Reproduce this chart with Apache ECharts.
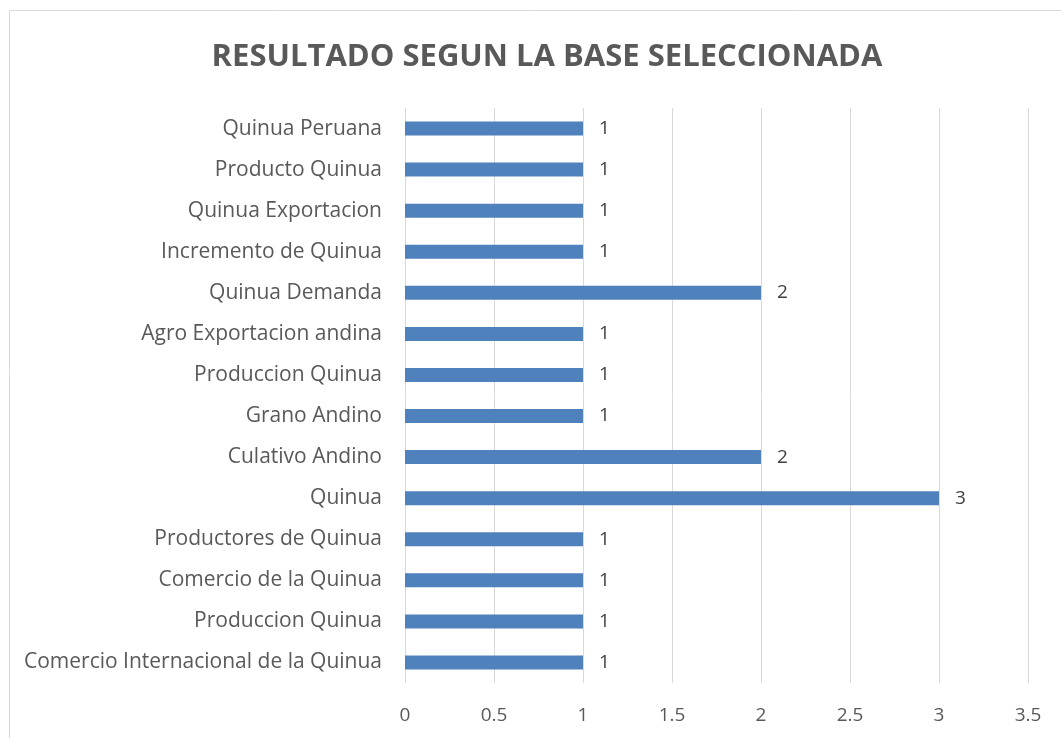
<!DOCTYPE html>
<html>
<head>
<meta charset="utf-8">
<script src="https://cdn.jsdelivr.net/npm/echarts@6/dist/echarts.min.js"></script>
<style>
  html, body { margin: 0; padding: 0; background: #fff; }
  #chart { width: 1061px; height: 738px; }
</style>
</head>
<body>
<div id="chart"></div>
<script>
// categorias de arriba hacia abajo
const categories = [
  'Quinua Peruana',
  'Producto Quinua',
  'Quinua Exportacion',
  'Incremento de Quinua',
  'Quinua Demanda',
  'Agro Exportacion andina',
  'Produccion Quinua',
  'Grano Andino',
  'Culativo Andino',
  'Quinua',
  'Productores de Quinua',
  'Comercio de la Quinua',
  'Produccion Quinua',
  'Comercio Internacional de la Quinua'
];
const values = [1, 1, 1, 1, 2, 1, 1, 1, 2, 3, 1, 1, 1, 1];

const textColor = '#595959';
const fontFamily = '"Open Sans", sans-serif';

let myChart = echarts.init(document.getElementById('chart'));
myChart.setOption({
  animation: false,
  title: {
    text: 'RESULTADO SEGUN LA BASE SELECCIONADA',
    left: 542,
    top: 37,
    textAlign: 'center',
    textStyle: {
      color: textColor,
      fontSize: 31,
      fontWeight: 'bold',
      fontFamily: fontFamily
    }
  },
  graphic: [{
    type: 'rect',
    shape: { x: 9.5, y: 10.5, width: 1100, height: 800 },
    style: { fill: 'none', stroke: '#d9d9d9', lineWidth: 1 },
    silent: true
  }],
  grid: {
    left: 405,
    right: 33,
    top: 108,
    bottom: 55
  },
  xAxis: {
    type: 'value',
    min: 0,
    max: 3.5,
    interval: 0.5,
    axisLine: { show: false },
    axisTick: { show: false },
    axisLabel: {
      color: textColor,
      fontSize: 19,
      fontFamily: fontFamily,
      margin: 23
    },
    splitLine: { show: true, lineStyle: { color: '#d9d9d9', width: 1 } }
  },
  yAxis: {
    type: 'category',
    data: categories,
    inverse: true,
    axisLine: { show: false },
    axisTick: { show: false },
    axisLabel: {
      color: textColor,
      fontSize: 21,
      fontFamily: fontFamily,
      margin: 23
    },
    splitLine: { show: false }
  },
  series: [{
    type: 'bar',
    data: values,
    barWidth: 14,
    itemStyle: { color: '#4f81bd' },
    label: {
      show: true,
      position: 'right',
      distance: 16,
      color: '#404040',
      fontSize: 19,
      fontFamily: fontFamily
    }
  }]
});
</script>
</body>
</html>
